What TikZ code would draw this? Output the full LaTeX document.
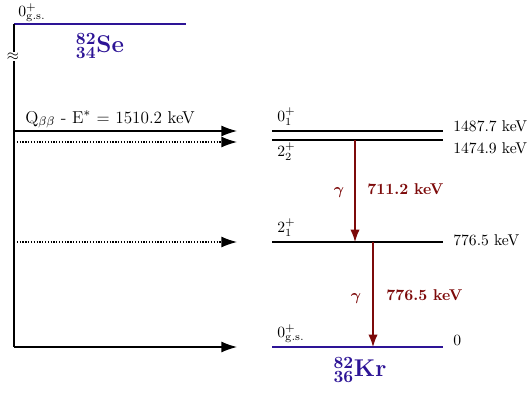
\documentclass[tikz,border=0pt]{standalone}
\usepackage{tikz}
\usepackage{bm}
\usetikzlibrary{arrows.meta}

\definecolor{lvlblue}{RGB}{45,20,150}
\definecolor{gamred}{RGB}{125,10,10}

\tikzset{
  level/.style={line width=0.9pt},
  gslevel/.style={line width=1.6pt,draw=lvlblue},
  feed/.style={line width=0.8pt,-{Latex[length=10pt,width=7pt]}},
  gamma/.style={draw=gamred,line width=0.8pt,-{Latex[length=8pt,width=6pt]}},
  lbl/.style={inner sep=0pt},
  gamlbl/.style={inner sep=0pt,text=gamred,font=\bfseries},
  nuclbl/.style={inner sep=0pt,text=lvlblue,font=\fontsize{15.5}{18}\selectfont},
}

\begin{document}
\begin{tikzpicture}[x=0.64pt,y=-0.64pt]
            \useasboundingbox (0,0) rectangle (529,393);

            % parent
            \coordinate (se0) at (14,24);
            \coordinate (se1) at (186,24);
            \draw[gslevel] (se0) -- (se1);
            \node[lbl,anchor=base west] (segs) at (18,16) {$0^+_{\mathrm{g.s.}}$};
            \node[nuclbl] (se) at (100,46) {$^{\mathbf{82}}_{\mathbf{34}}$\textbf{Se}};

            % vertical stem with break
            \coordinate (b1) at (14,52);
            \coordinate (b2) at (14,61);
            \coordinate (bot) at (14,347);
            \draw[level] (se0) -- (b1);
            \draw[level] (b2) -- (bot);
            \node[lbl] (brk) at (13,56.5) {$\approx$};

            % daughter levels
            \coordinate (l0a) at (272,131);  \coordinate (l0b) at (443,131);
            \coordinate (l2a) at (272,140);  \coordinate (l2b) at (443,140);
            \coordinate (l1a) at (272,242);  \coordinate (l1b) at (443,242);
            \coordinate (gsa) at (272,347);  \coordinate (gsb) at (443,347);
            \draw[level] (l0a) -- (l0b);
            \draw[level] (l2a) -- (l2b);
            \draw[level] (l1a) -- (l1b);
            \draw[gslevel] (gsa) -- (gsb);

            \node[lbl,anchor=base west] (n01) at (277,121) {$0^+_1$};
            \node[lbl,anchor=base west] (n22) at (277,156) {$2^+_2$};
            \node[lbl,anchor=base west] (n21) at (277,232) {$2^+_1$};
            \node[lbl,anchor=base west] (ngs) at (277,337) {$0^+_{\mathrm{g.s.}}$};

            \node[lbl,anchor=base west] (e01) at (453,131) {1487.7 keV};
            \node[lbl,anchor=base west] (e22) at (453,153) {1474.9 keV};
            \node[lbl,anchor=base west] (e21) at (453,245) {776.5 keV};
            \node[lbl,anchor=base west] (egs) at (453,345) {0};

            \node[nuclbl] (kr) at (360,370) {$^{\mathbf{82}}_{\mathbf{36}}$\textbf{Kr}};

            % feeding arrows
            \coordinate (f1) at (14,131);  \coordinate (t1) at (237,131);
            \coordinate (f2) at (14,142);  \coordinate (t2) at (237,142);
            \coordinate (f3) at (14,242);  \coordinate (t3) at (237,242);
            \coordinate (t4) at (237,347);
            \draw[feed] (f1) -- (t1);
            \draw[feed,densely dotted] (f2) -- (t2);
            \draw[feed,densely dotted] (f3) -- (t3);
            \draw[feed] (bot) -- (t4);
            \node[lbl,anchor=base west,font=\fontsize{11}{13}\selectfont] (q) at (25,123) {Q$_{\beta\beta}$ - E$^*$ = 1510.2 keV};

            % gamma transitions
            \coordinate (g1s) at (355,140);  \coordinate (g1e) at (355,242);
            \coordinate (g2s) at (373,242);  \coordinate (g2e) at (373,347);
            \draw[gamma] (g1s) -- (g1e);
            \draw[gamma] (g2s) -- (g2e);
            \node[gamlbl,anchor=base] (gam1) at (339,194) {$\bm{\gamma}$};
            \node[gamlbl,anchor=base west] (en1) at (367,194) {711.2 keV};
            \node[gamlbl,anchor=base] (gam2) at (356,300) {$\bm{\gamma}$};
            \node[gamlbl,anchor=base west] (en2) at (386,300) {776.5 keV};
        \end{tikzpicture}
\end{document}
